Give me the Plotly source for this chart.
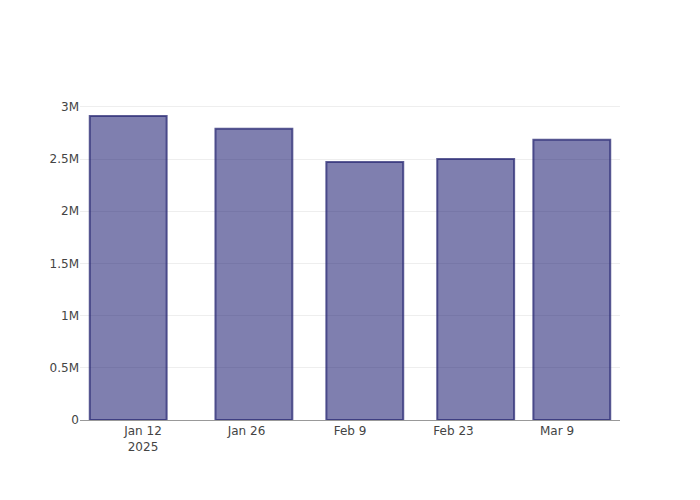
import plotly.graph_objects as go

dates = ["2025-01-10", "2025-01-27", "2025-02-11", "2025-02-26", "2025-03-11"]
values = [2913000, 2790000, 2472000, 2500000, 2685000]
x_range = ["2025-01-03 11:30", "2025-03-17 12:30"]
y_tickvals = [0, 500000, 1000000, 1500000, 2000000, 2500000, 3000000]
y_ticktext = ["0", "0.5M", "1M", "1.5M", "2M", "2.5M", "3M"]

fig = go.Figure(
    go.Bar(
        x=dates,
        y=values,
        marker=dict(
            color="rgba(0,0,95,0.5)",
            line=dict(color="rgba(40,40,115,0.75)", width=2),
        ),
    )
)

fig.update_layout(
    template="plotly_white",
    width=700,
    height=500,
    margin=dict(l=72, r=88, t=92, b=88),
    showlegend=False,
    font=dict(family="DejaVu Sans", size=12, color="#444"),
)
fig.update_xaxes(
    range=x_range,
    showgrid=False,
    showline=True,
    linecolor="#999",
    linewidth=1,
    dtick=14 * 24 * 3600 * 1000,
    tick0="2025-01-12",
)
fig.update_yaxes(
    showgrid=True,
    gridcolor="#eee",
    zeroline=False,
    tickvals=y_tickvals,
    ticktext=y_ticktext,
)

fig.write_html("out.html")
